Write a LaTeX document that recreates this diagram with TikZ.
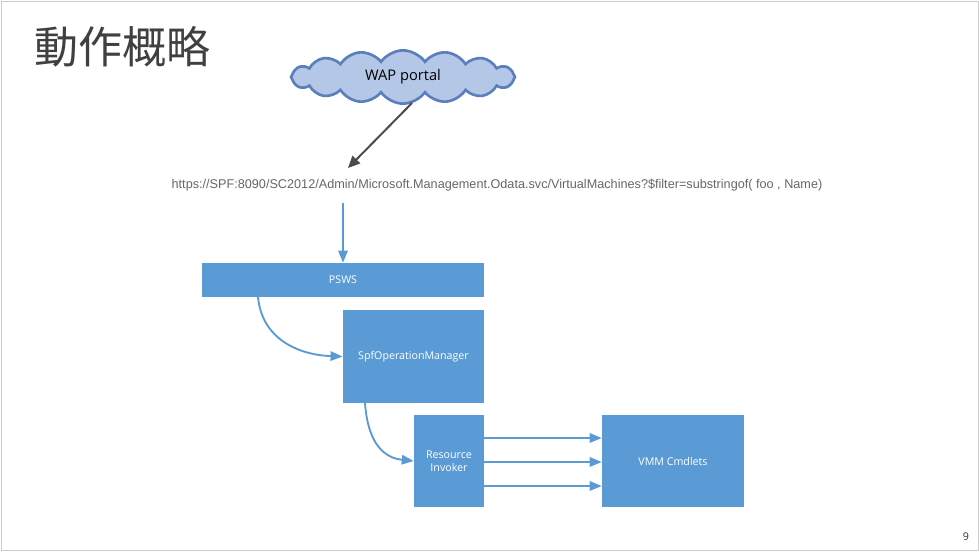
\documentclass[tikz,border=0pt]{standalone}
\usepackage{fontspec}
\setmainfont{Open Sans}
\newfontfamily\cjk{Noto Sans CJK JP}
\newfontfamily\arialf{Liberation Sans}
\usetikzlibrary{shapes.symbols,arrows.meta}
\definecolor{boxblue}{HTML}{5B9BD5}
\definecolor{cloudfill}{HTML}{B4C7E7}
\definecolor{clouddraw}{HTML}{5A80BC}
\begin{document}
\begin{tikzpicture}[x=0.75pt,y=-0.75pt,
  box/.style={fill=boxblue,draw=none,text=white,font=\fontsize{8}{10}\selectfont,inner sep=0pt,align=center},
  flow/.style={draw=boxblue,line width=1.4pt,-{Triangle[length=9pt,width=7pt]}}]
\useasboundingbox (0,0) rectangle (979,551);
\draw[gray!40,line width=0.6pt] (1,1) rectangle (978,550);
\node[text=black!75,font=\cjk\fontsize{33}{36}\selectfont,anchor=west] (title) at (30,47) {動作概略};
\node[cloud,cloud puffs=16,cloud puff arc=110,aspect=5,fill=cloudfill,draw=clouddraw,line width=2pt,minimum width=168pt,minimum height=40pt,font=\fontsize{11}{13}\selectfont] (wap) at (403,77) {WAP portal};
\node[text=black!60,font=\arialf\fontsize{9.5}{11}\selectfont] (url) at (497,185) {https://SPF:8090/SC2012/Admin/Microsoft.Management.Odata.svc/VirtualMachines?\$filter=substringof( foo , Name)};
\node[box,minimum width=211.5pt,minimum height=25.5pt] (psws) at (343,280) {PSWS};
\node[box,minimum width=106pt,minimum height=70pt] (som) at (413.5,356.5) {SpfOperationManager};
\node[box,minimum width=52.5pt,minimum height=69pt] (ri) at (449,461) {Resource\\Invoker};
\node[box,minimum width=106.5pt,minimum height=69pt] (vmm) at (673,461) {VMM Cmdlets};
\coordinate (a1) at (412,103);
\coordinate (a2) at (348,168);
\draw[black!70,line width=1.5pt,-{Triangle[length=9pt,width=8pt]}] (a1) -- (a2);
\coordinate (u1) at (343,203);
\draw[flow] (u1) -- (psws.north -| u1);
\coordinate (p1) at (258,297);
\draw[flow] (p1) .. controls (262,340) and (300,355) .. (som.west);
\coordinate (s1) at (365,403);
\draw[flow] (s1) .. controls (368,445) and (385,458) .. (ri.west);
\foreach \yy in {438,462,486}{
  \draw[flow] (ri.east |- 0,\yy) -- (vmm.west |- 0,\yy);
}
\node[font=\fontsize{8}{10}\selectfont,text=black!80] (pg) at (966,537) {9};
\end{tikzpicture}
\end{document}
